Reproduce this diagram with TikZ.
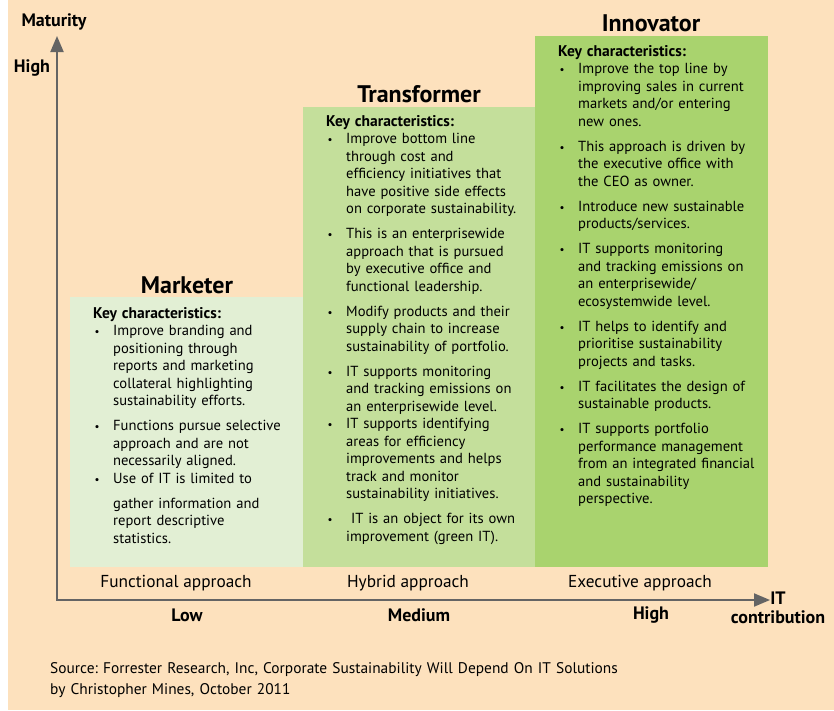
\documentclass[tikz,border=0pt]{standalone}
\usepackage{fontspec}
\setmainfont{PT Sans}
\usetikzlibrary{arrows.meta}

\definecolor{peach}{RGB}{253,225,189}
\definecolor{paleleaf}{RGB}{226,239,212}
\definecolor{midleaf}{RGB}{196,223,155}
\definecolor{deepleaf}{RGB}{169,211,110}
\definecolor{axisgray}{RGB}{100,100,100}

\frenchspacing
% bullet lists inside the three columns
\newcommand\keyhead{{\fontsize{15.5}{17.5}\selectfont\bfseries Key characteristics:}\par}
\newcommand\dotmark{{\fontsize{11}{11}\selectfont\textbullet}}
\newcommand\bitem[2][\dotmark]{\hangindent=20pt\hangafter=1\noindent\makebox[20pt][l]{\hspace{1.5pt}#1}{\let\\\newline #2}\par}
\newcommand\itemgap{\vspace{7.5pt}}

\begin{document}
\begin{tikzpicture}[x=1pt,y=-1pt,
axis/.style = {draw=axisgray, line width=2pt, {Triangle[length=16pt,width=13pt]}-{Triangle[length=16pt,width=13pt]}},
ttl/.style = {font=\fontsize{24}{28}\selectfont\bfseries},
chars/.style = {anchor=base west, inner sep=0pt, text width=220pt, align=left, font=\fontsize{14.6}{17.5}\selectfont},
apr/.style = {font=\fontsize{17.3}{20}\selectfont},
lvl/.style = {font=\fontsize{18}{20}\selectfont\bfseries},
axlbl/.style = {font=\fontsize{18}{19}\selectfont\bfseries, align=center, inner sep=0pt}
]
\useasboundingbox (0,0) rectangle (834,710);
\fill[peach] (8,0) rectangle (834,710);

% the three stages
\fill[paleleaf] (70,297) rectangle (303,567);
\fill[midleaf] (303,107) rectangle (535,567);
\fill[deepleaf] (535,36) rectangle (768,567);

% axes
\coordinate (origin) at (57,600);
\coordinate (ytip) at (57,36);
\coordinate (xtip) at (770,600);
\draw[axis] (ytip) -- (origin) -- (xtip);

\node[axlbl] (maturity) at (54,22) {Maturity};
\node[axlbl] (maxlbl) at (32,68) {High};
\node[axlbl] (itcontrib) at (778,608) {IT\\contribution};

\foreach \cx/\cy/\st/\ap/\lv in {187/285/Marketer/Functional/Low, 419/94/Transformer/Hybrid/Medium, 651/23/Innovator/Executive/High}{
  \node[ttl] (ttl-\st) at (\cx,\cy) {\st};
  \node[apr] (apr-\st) at (\cx-11,583) {\ap\ approach};
  \node[lvl] (lvl-\st) at (\cx,615) {\lv};
}

\node[chars] (mkt) at (93,318) {\keyhead
\bitem{Improve branding and\\ positioning through\\ reports and marketing\\ collateral highlighting\\ sustainability efforts.}
\itemgap
\bitem{Functions pursue selective\\ approach and are not\\ necessarily aligned.}
\bitem{Use of IT is limited to}
\itemgap
\bitem[]{gather information and\\ report descriptive\\ statistics.}};

\node[chars] (trf) at (326,126) {\keyhead
\bitem{Improve bottom line\\ through cost and\\ efficiency initiatives that\\ have positive side effects\\ on corporate sustainability.}
\itemgap
\bitem{This is an enterprisewide\\ approach that is pursued\\ by executive office and\\ functional leadership.}
\itemgap
\bitem{Modify products and their\\ supply chain to increase\\ sustainability of portfolio.}
\itemgap
\bitem{IT supports monitoring\\ and tracking emissions on\\ an enterprisewide level.}
\bitem{IT supports identifying\\ areas for efficiency\\ improvements and helps\\ track and monitor\\ sustainability initiatives.}
\itemgap
\bitem{\ IT is an object for its own\\ improvement (green IT).}};

\node[chars] (inv) at (558,56) {\keyhead
\bitem{Improve the top line by\\ improving sales in current\\ markets and/or entering\\ new ones.}
\itemgap
\bitem{This approach is driven by\\ the executive office with\\ the CEO as owner.}
\itemgap
\bitem{Introduce new sustainable\\ products/services.}
\itemgap
\bitem{IT supports monitoring\\ and tracking emissions on\\ an enterprisewide/\\ ecosystemwide level.}
\itemgap
\bitem{IT helps to identify and\\ prioritise sustainability\\ projects and tasks.}
\itemgap
\bitem{IT facilitates the design of\\ sustainable products.}
\itemgap
\bitem{IT supports portfolio\\ performance management\\ from an integrated financial\\ and sustainability\\ perspective.}};

\node[chars, text width=700pt, font=\fontsize{15.4}{21}\selectfont] (source) at (50,673) {Source: Forrester Research, Inc, Corporate Sustainability Will Depend On IT Solutions\\ by Christopher Mines, October 2011};
\end{tikzpicture}
\end{document}
